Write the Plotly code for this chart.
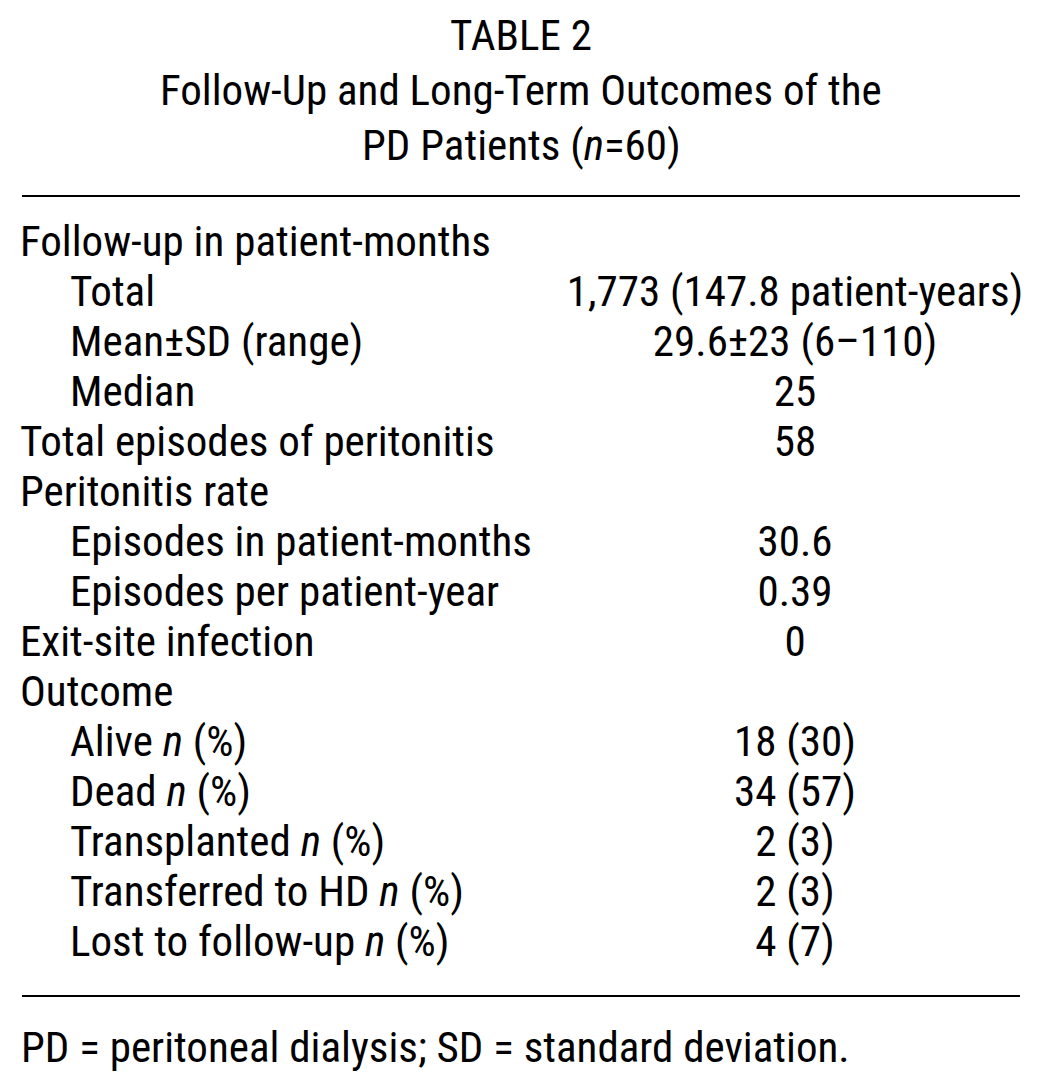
import plotly.graph_objects as go

title_lines = ["TABLE 2", "Follow-Up and Long-Term Outcomes of the", "PD Patients (<i>n</i>=60)"]
row_labels = [
    "Follow-up in patient-months",
    "Total",
    "Mean±SD (range)",
    "Median",
    "Total episodes of peritonitis",
    "Peritonitis rate",
    "Episodes in patient-months",
    "Episodes per patient-year",
    "Exit-site infection",
    "Outcome",
    "Alive <i>n</i> (%)",
    "Dead <i>n</i> (%)",
    "Transplanted <i>n</i> (%)",
    "Transferred to HD <i>n</i> (%)",
    "Lost to follow-up <i>n</i> (%)",
]
row_levels = [0, 1, 1, 1, 0, 0, 1, 1, 0, 0, 1, 1, 1, 1, 1]
row_values = [
    "",
    "1,773 (147.8 patient-years)",
    "29.6±23 (6–110)",
    "25",
    "58",
    "",
    "30.6",
    "0.39",
    "0",
    "",
    "18 (30)",
    "34 (57)",
    "2 (3)",
    "2 (3)",
    "4 (7)",
]
footnote = "PD = peritoneal dialysis; SD = standard deviation."

FONT = "Roboto Condensed, DejaVu Sans Condensed, sans-serif"
FS = 43
W, H = 1042, 1080
OFF = 8  # page body margin
left, right = 22, 1020
indent = 50
val_x = 795
row0, step = 245, 50

ys = [row0 + step * i for i in range(len(row_labels))]
xs = [left - 2 + indent * lv for lv in row_levels]

fig = go.Figure()
fig.add_trace(go.Scatter(
    x=xs, y=ys, text=row_labels, mode="text", textposition="middle right",
    textfont=dict(family=FONT, size=FS, color="black"), hoverinfo="skip",
))
fig.add_trace(go.Scatter(
    x=[val_x] * len(row_values), y=ys, text=row_values, mode="text",
    textposition="middle center",
    textfont=dict(family=FONT, size=FS, color="black"), hoverinfo="skip",
))

annotations = []
for i, t in enumerate(title_lines):
    annotations.append(dict(x=W / 2, y=35 + 55 * i, text=t, showarrow=False,
                            xref="x", yref="y", xanchor="center", yanchor="middle",
                            font=dict(family=FONT, size=FS, color="black")))
annotations.append(dict(x=left - 3, y=1047, text=footnote, showarrow=False,
                        xref="x", yref="y", xanchor="left", yanchor="middle",
                        font=dict(family=FONT, size=FS, color="black")))

shapes = [
    dict(type="line", x0=left, x1=right, y0=196, y1=196, xref="x", yref="y",
         line=dict(color="black", width=2)),
    dict(type="line", x0=left, x1=right, y0=996, y1=996, xref="x", yref="y",
         line=dict(color="black", width=2)),
]

fig.update_layout(
    width=W, height=H, margin=dict(l=0, r=0, t=0, b=0),
    paper_bgcolor="white", plot_bgcolor="white", showlegend=False,
    xaxis=dict(range=[OFF, W + OFF], visible=False, fixedrange=True),
    yaxis=dict(range=[H + OFF, OFF], visible=False, fixedrange=True),
    annotations=annotations, shapes=shapes,
)
fig.write_html("out.html")
